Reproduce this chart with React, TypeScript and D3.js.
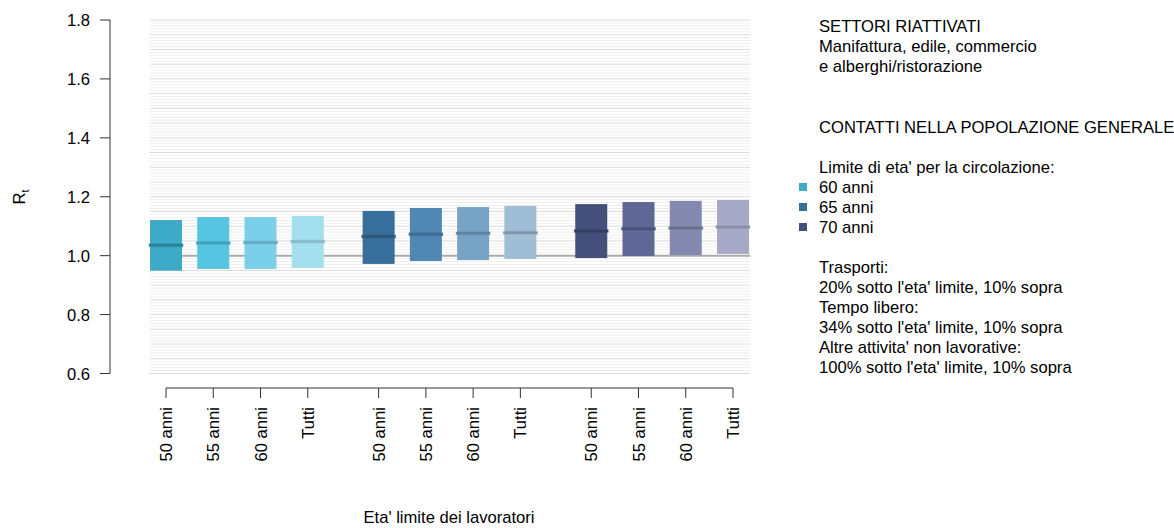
import React from "react";
import * as d3 from "d3";

const circulationLimits = ["60 anni", "65 anni", "70 anni"];
const workerLimits = ["50 anni", "55 anni", "60 anni", "Tutti"];

const upperValues = [1.121, 1.131, 1.131, 1.135, 1.152, 1.162, 1.165, 1.169, 1.175, 1.182, 1.186, 1.189];
const lowerValues = [0.949, 0.955, 0.955, 0.958, 0.972, 0.982, 0.985, 0.989, 0.992, 0.999, 1.002, 1.006];
const medianValues = [1.035, 1.043, 1.045, 1.048, 1.065, 1.073, 1.076, 1.078, 1.084, 1.091, 1.094, 1.097];

const barColors = [
  "#3DABC7", "#56C5E1", "#7AD0E8", "#A3DFEF",
  "#386E9B", "#5087B4", "#77A3C6", "#A0BDD6",
  "#444F7C", "#5E6796", "#848AAF", "#A7AAC7",
];
const medianColors = [
  "#2A8098", "#3FA1BB", "#62AABF", "#88BAC8",
  "#2B5878", "#3E6B90", "#5E82A0", "#8096AA",
  "#343D62", "#4A5277", "#696F8F", "#8A8EA6",
];
const legendColors = ["#3DABC7", "#386E9B", "#444F7C"];

const yTicks = [0.6, 0.8, 1.0, 1.2, 1.4, 1.6, 1.8];

const legendTop = ["SETTORI RIATTIVATI", "Manifattura, edile, commercio", "e alberghi/ristorazione"];
const legendBottom = [
  "Trasporti:",
  "20% sotto l'eta' limite, 10% sopra",
  "Tempo libero:",
  "34% sotto l'eta' limite, 10% sopra",
  "Altre attivita' non lavorative:",
  "100% sotto l'eta' limite, 10% sopra",
];

export default function App() {
  const W = 1174, H = 528;
  const font = "'Liberation Sans', Arial, sans-serif";
  const fs = 16.6;
  const y = d3.scaleLinear().domain([0.6, 1.8]).range([373.5, 20]);
  const x = d3.scaleLinear().domain([0, 12]).range([166, 733]);
  const bw = 32;
  const bars = upperValues.map((u, i) => {
    const g = Math.floor(i / workerLimits.length);
    const j = i % workerLimits.length;
    return { i, g, label: workerLimits[j], cx: x(i + 0.5 * g), u, l: lowerValues[i], m: medianValues[i] };
  });
  const gx0 = 150, gx1 = 750;
  const minor = d3.range(60, 181).map((v) => v / 100);

  return (
    <svg width={W} height={H} style={{ position: "absolute", left: 0, top: 0, background: "#fff" }} fontFamily={font}>
      {/* grid */}
      {minor.map((v, k) => {
        const major = Math.round(v * 100) % 5 === 0;
        if (major) return null;
        return <line key={"mi" + k} x1={gx0} x2={gx1} y1={y(v)} y2={y(v)} stroke="#EFEFEF" strokeWidth={1} />;
      })}
      {minor.map((v, k) => {
        const major = Math.round(v * 100) % 5 === 0;
        if (!major) return null;
        return <line key={"ma" + k} x1={gx0} x2={gx1} y1={y(v)} y2={y(v)} stroke="#DADADA" strokeWidth={1} />;
      })}
      <line x1={gx0} x2={gx1} y1={y(1)} y2={y(1)} stroke="#AAAAAA" strokeWidth={2} />

      {/* bars */}
      {bars.map((b) => (
        <g key={b.i}>
          <rect x={b.cx - bw / 2} y={y(b.u)} width={bw} height={y(b.l) - y(b.u)} fill={barColors[b.i]} />
          <line x1={b.cx - bw / 2 - 1.5} x2={b.cx + bw / 2 + 1.5} y1={y(b.m)} y2={y(b.m)} stroke={medianColors[b.i]} strokeWidth={4} strokeOpacity={0.35} />
          <line x1={b.cx - bw / 2 - 1} x2={b.cx + bw / 2 + 1} y1={y(b.m)} y2={y(b.m)} stroke={medianColors[b.i]} strokeWidth={2.5} />
        </g>
      ))}

      {/* y axis */}
      <line x1={110} x2={110} y1={y(0.6)} y2={y(1.8)} stroke="#333" strokeWidth={1} />
      {yTicks.map((t) => (
        <g key={t}>
          <line x1={100} x2={110} y1={y(t)} y2={y(t)} stroke="#333" />
          <text x={90} y={y(t) + 6} textAnchor="end" fontSize={fs} fill="#000">{t.toFixed(1)}</text>
        </g>
      ))}
      <text transform={`translate(25,197) rotate(-90)`} fontSize={fs} fill="#000" textAnchor="middle">
        R<tspan fontSize={11} dy={4}>t</tspan>
      </text>

      {/* x axis */}
      <line x1={bars[0].cx} x2={bars[bars.length - 1].cx} y1={388} y2={388} stroke="#333" />
      {bars.map((b) => (
        <g key={"t" + b.i}>
          <line x1={b.cx} x2={b.cx} y1={388} y2={398} stroke="#333" />
          <text transform={`translate(${b.cx + 6},407) rotate(-90)`} textAnchor="end" fontSize={fs} fill="#000">{b.label}</text>
        </g>
      ))}
      <text x={449} y={523} textAnchor="middle" fontSize={fs} fill="#000">Eta' limite dei lavoratori</text>

      {/* legend */}
      {legendTop.map((s, k) => (
        <text key={"lt" + k} x={819} y={32 + k * 20} fontSize={fs} fill="#000">{s}</text>
      ))}
      <text x={819} y={133} fontSize={fs} fill="#000">CONTATTI NELLA POPOLAZIONE GENERALE</text>
      <text x={819} y={173} fontSize={fs} fill="#000">Limite di eta' per la circolazione:</text>
      {circulationLimits.map((s, k) => (
        <g key={"lc" + k}>
          <rect x={799} y={183 + k * 20} width={8} height={8} fill={legendColors[k]} />
          <text x={819} y={193 + k * 20} fontSize={fs} fill="#000">{s}</text>
        </g>
      ))}
      {legendBottom.map((s, k) => (
        <text key={"lb" + k} x={819} y={273 + k * 20} fontSize={fs} fill="#000">{s}</text>
      ))}
    </svg>
  );
}
